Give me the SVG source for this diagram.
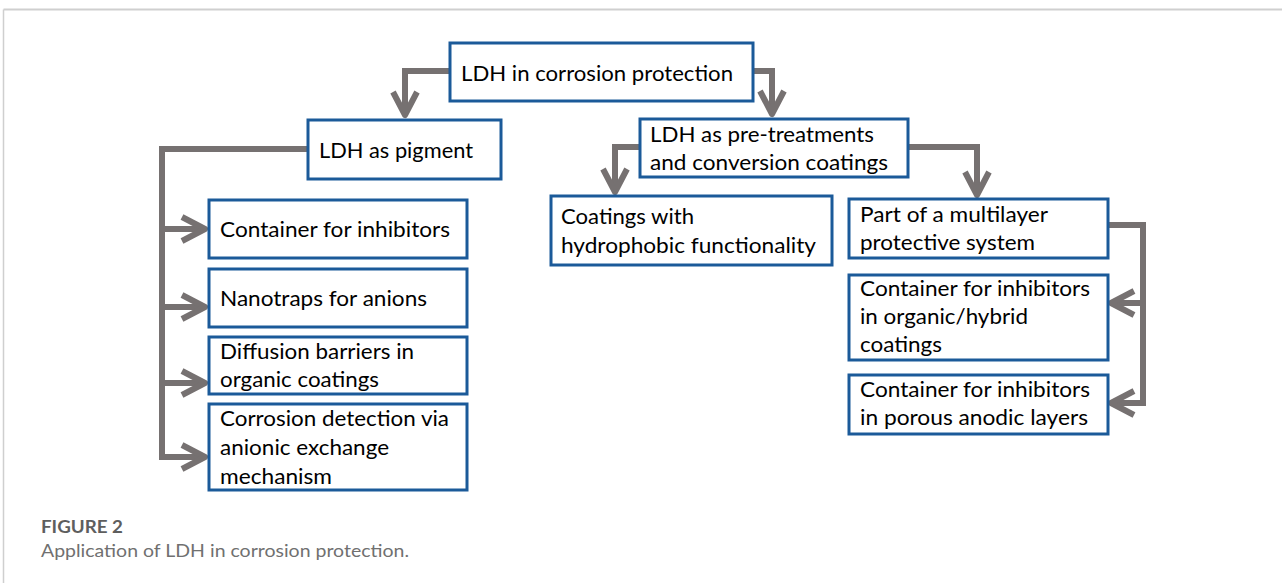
<svg xmlns="http://www.w3.org/2000/svg" width="1282" height="583" viewBox="0 0 1282 583">
<style>
.box{fill:#ffffff;stroke:#1b5a99;stroke-width:3}
.t{font-family:Lato,"Open Sans","Liberation Sans",sans-serif;font-size:21.5px;fill:#000000}
.c{fill:none;stroke:#767171;stroke-width:6;stroke-linejoin:miter}
.cap1{font-family:Lato,"Open Sans","Liberation Sans",sans-serif;font-size:16.5px;font-weight:bold;fill:#5e5e5e}
.cap2{font-family:Lato,"Open Sans","Liberation Sans",sans-serif;font-size:17px;fill:#707070}
</style>
<defs>
<marker id="chev" markerUnits="userSpaceOnUse" orient="auto" refX="0" refY="0" markerWidth="40" markerHeight="40" overflow="visible">
<path d="M-23,-12 L0,0 L-23,12" fill="none" stroke="#767171" stroke-width="6" stroke-linejoin="round"/>
</marker>
</defs>
<rect x="0" y="0" width="1282" height="583" fill="#ffffff"/>
<g id="frame">
<line x1="3.5" y1="9.5" x2="1282" y2="9.5" stroke="#cfcfcf" stroke-width="2"/>
<line x1="3.5" y1="9.5" x2="3.5" y2="583" stroke="#cfcfcf" stroke-width="1.5"/>
</g>
<g id="connectors">
<path class="c" d="M450,71 H405 V115" marker-end="url(#chev)"/>
<path class="c" d="M753,71 H772 V114" marker-end="url(#chev)"/>
<path class="c" d="M308,149 H162 V460"/>
<path class="c" d="M162,229 H205" marker-end="url(#chev)"/>
<path class="c" d="M162,307 H205" marker-end="url(#chev)"/>
<path class="c" d="M162,383 H205" marker-end="url(#chev)"/>
<path class="c" d="M162,457 H205" marker-end="url(#chev)"/>
<path class="c" d="M640,147 H615 V192" marker-end="url(#chev)"/>
<path class="c" d="M908,147 H977 V195" marker-end="url(#chev)"/>
<path class="c" d="M1108,225 H1143 V406"/>
<path class="c" d="M1143,303 H1111" marker-end="url(#chev)"/>
<path class="c" d="M1143,403 H1111" marker-end="url(#chev)"/>
</g>
<g id="root">
<rect class="box" x="450" y="43" width="303" height="58"/>
<text class="t" x="461" y="81" textLength="272" lengthAdjust="spacingAndGlyphs">LDH in corrosion protection</text>
</g>
<g id="pigment">
<rect class="box" x="308" y="120" width="193" height="59"/>
<text class="t" x="319" y="158" textLength="154" lengthAdjust="spacingAndGlyphs">LDH as pigment</text>
</g>
<g id="pretreat">
<rect class="box" x="640" y="119" width="268" height="58"/>
<text class="t" x="650" y="142" textLength="224" lengthAdjust="spacingAndGlyphs">LDH as pre-treatments</text>
<text class="t" x="650" y="170" textLength="238" lengthAdjust="spacingAndGlyphs">and conversion coatings</text>
</g>
<g id="hydrophobic">
<rect class="box" x="551" y="196" width="281" height="69"/>
<text class="t" x="561" y="224" textLength="133" lengthAdjust="spacingAndGlyphs">Coatings with</text>
<text class="t" x="561" y="253" textLength="255" lengthAdjust="spacingAndGlyphs">hydrophobic functionality</text>
</g>
<g id="multilayer">
<rect class="box" x="849" y="199" width="259" height="59"/>
<text class="t" x="860" y="222" textLength="188" lengthAdjust="spacingAndGlyphs">Part of a multilayer</text>
<text class="t" x="860" y="250" textLength="175" lengthAdjust="spacingAndGlyphs">protective system</text>
</g>
<g id="organic-hybrid">
<rect class="box" x="849" y="275" width="259" height="85"/>
<text class="t" x="860" y="296" textLength="230" lengthAdjust="spacingAndGlyphs">Container for inhibitors</text>
<text class="t" x="860" y="324" textLength="168" lengthAdjust="spacingAndGlyphs">in organic/hybrid</text>
<text class="t" x="860" y="352" textLength="82" lengthAdjust="spacingAndGlyphs">coatings</text>
</g>
<g id="porous-anodic">
<rect class="box" x="849" y="375" width="259" height="59"/>
<text class="t" x="860" y="397" textLength="230" lengthAdjust="spacingAndGlyphs">Container for inhibitors</text>
<text class="t" x="860" y="425" textLength="228" lengthAdjust="spacingAndGlyphs">in porous anodic layers</text>
</g>
<g id="container">
<rect class="box" x="209" y="200" width="258" height="58"/>
<text class="t" x="220" y="237" textLength="230" lengthAdjust="spacingAndGlyphs">Container for inhibitors</text>
</g>
<g id="nanotraps">
<rect class="box" x="209" y="269" width="258" height="58"/>
<text class="t" x="220" y="306" textLength="207" lengthAdjust="spacingAndGlyphs">Nanotraps for anions</text>
</g>
<g id="diffusion">
<rect class="box" x="209" y="337" width="258" height="57"/>
<text class="t" x="220" y="359" textLength="194" lengthAdjust="spacingAndGlyphs">Diffusion barriers in</text>
<text class="t" x="220" y="387" textLength="159" lengthAdjust="spacingAndGlyphs">organic coatings</text>
</g>
<g id="detection">
<rect class="box" x="209" y="404" width="258" height="86"/>
<text class="t" x="220" y="426" textLength="229" lengthAdjust="spacingAndGlyphs">Corrosion detection via</text>
<text class="t" x="220" y="455" textLength="169" lengthAdjust="spacingAndGlyphs">anionic exchange</text>
<text class="t" x="220" y="484" textLength="112" lengthAdjust="spacingAndGlyphs">mechanism</text>
</g>
<g id="caption">
<text class="cap1" x="41" y="533" textLength="82" lengthAdjust="spacingAndGlyphs">FIGURE 2</text>
<text class="cap2" x="41" y="557" textLength="368" lengthAdjust="spacingAndGlyphs">Application of LDH in corrosion protection.</text>
</g>
</svg>
